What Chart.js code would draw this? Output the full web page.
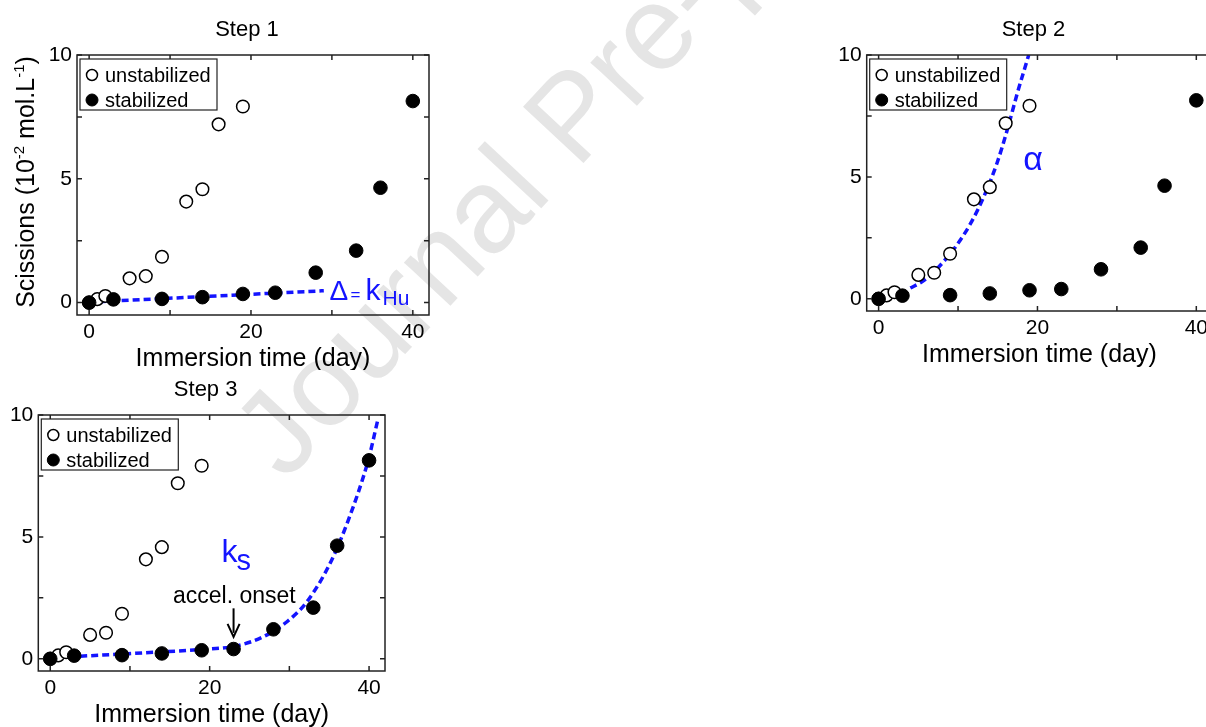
<!DOCTYPE html>
<html lang="en">
<head>
<meta charset="UTF-8">
<title>Scissions vs immersion time - steps 1 to 3</title>
<style>
    html, body {
        margin: 0;
        padding: 0;
        overflow: hidden;
    }
    body {
        position: relative;
        width: 1206px;
        height: 727px;
        background: #fff;
        font-family: Arial, 'Liberation Sans', sans-serif;
    }
    .panel {
        position: absolute;
    }
    #watermark {
        position: absolute;
        left: 211px;
        top: 413px;
        font-size: 120px;
        line-height: 1;
        color: #e5e5e5;
        white-space: nowrap;
        transform-origin: 0 0;
        transform: rotate(-47deg);
    }
</style>
</head>
<body>
<div id="watermark">Journal Pre-proof</div>
<canvas id="step1" class="panel" width="450" height="370" style="left:0;top:0"></canvas>
<canvas id="step2" class="panel" width="430" height="370" style="left:790px;top:0"></canvas>
<canvas id="step3" class="panel" width="400" height="367" style="left:0;top:360px"></canvas>

<script src="https://cdn.jsdelivr.net/npm/chart.js"></script>
<script>
const FONT = 'Arial, "Liberation Sans", sans-serif';
const BLUE = '#1414ff';

const unstabDays = [0, 1, 2, 5, 7, 9, 12, 14, 16, 19];
const unstabScissions = [0, 0.14, 0.27, 0.98, 1.07, 1.85, 4.08, 4.58, 7.2, 7.92];
const stabDays = [0, 3, 9, 14, 19, 23, 28, 33, 36, 40];
const stabScissions = [0, 0.13, 0.15, 0.22, 0.35, 0.4, 1.21, 2.1, 4.64, 8.14];

// dashed model curves, also
const huDays = [1.3, 29];
const huVals = [0.04, 0.48];
const alphaDays = [4, 5.5, 6.8, 8, 9.7, 11.6, 13.25, 14.9, 16.2, 17.4, 18.9];
const alphaVals = [0.44, 0.71, 1.05, 1.46, 2.14, 3.1, 4.19, 5.56, 6.93, 8.36, 10];
const ksDays = [1, 6.3, 12, 18.8, 23.2, 26.7, 29.7, 32.2, 35.1, 37.4, 39.9, 41.1];
const ksVals = [0.06, 0.15, 0.25, 0.38, 0.52, 0.9, 1.52, 2.34, 3.91, 5.69, 8.15, 9.8];

const xMajor = [0, 20, 40];
const xMinor = [10, 30];
const yMajor = [0, 5, 10];
const yMinor = [2.5, 7.5];

const seriesNames = ['unstabilized', 'stabilized'];

function pts(xs, ys) {
    return xs.map((x, i) => ({x: x, y: ys[i]}));
}

// draws a run of text pieces; each piece has its own size, x offset and baseline shift
function drawPieces(ctx, pieces, x, y, color) {
    ctx.fillStyle = color;
    ctx.textBaseline = 'alphabetic';
    ctx.textAlign = 'left';
    pieces.forEach(p => {
        ctx.font = p.size + 'px ' + FONT;
        ctx.fillText(p.t, x + (p.dx || 0), y + (p.dy || 0));
    });
}

const decor = {
    id: 'decor',
    afterDatasetsDraw(chart, args, o) {
        const ctx = chart.ctx;
        const a = chart.chartArea;
        const xs = chart.scales.x, ys = chart.scales.y;
        ctx.save();

        // box + inward ticks on every side
        ctx.strokeStyle = '#222';
        ctx.lineWidth = 1.5;
        ctx.strokeRect(a.left, a.top, a.right - a.left, a.bottom - a.top);
        ctx.beginPath();
        xMajor.concat(xMinor).forEach(v => {
            const px = xs.getPixelForValue(v);
            ctx.moveTo(px, a.bottom); ctx.lineTo(px, a.bottom - 5);
            ctx.moveTo(px, a.top); ctx.lineTo(px, a.top + 5);
        });
        yMajor.concat(yMinor).forEach(v => {
            const py = ys.getPixelForValue(v);
            ctx.moveTo(a.left, py); ctx.lineTo(a.left + 5, py);
            ctx.moveTo(a.right, py); ctx.lineTo(a.right - 5, py);
        });
        ctx.stroke();

        // legend box
        const lx = a.left + 3, ly = a.top + 4;
        ctx.fillStyle = '#fff';
        ctx.fillRect(lx, ly, 137, 51);
        ctx.lineWidth = 1.2;
        ctx.strokeRect(lx, ly, 137, 51);
        seriesNames.forEach((name, i) => {
            const ds = chart.data.datasets[i];
            const cy = a.top + 20 + i * 25;
            ctx.beginPath();
            ctx.arc(a.left + 15, cy, i === 0 ? 5.5 : 6, 0, Math.PI * 2);
            ctx.fillStyle = ds.backgroundColor;
            ctx.fill();
            ctx.lineWidth = ds.borderWidth;
            ctx.strokeStyle = ds.borderColor;
            ctx.stroke();
            ctx.fillStyle = '#000';
            ctx.font = '20px ' + FONT;
            ctx.textAlign = 'left';
            ctx.textBaseline = 'middle';
            ctx.fillText(name, a.left + 28, cy + 1);
        });

        // panel title
        ctx.fillStyle = '#000';
        ctx.font = '22px ' + FONT;
        ctx.textAlign = 'center';
        ctx.textBaseline = 'alphabetic';
        ctx.fillText(o.title, (a.left + a.right) / 2 - 6, a.top - 19);

        // x axis title
        ctx.font = '25px ' + FONT;
        ctx.fillText('Immersion time (day)', (a.left + a.right) / 2, a.bottom + 51);

        // y axis title with superscripts
        if (o.yTitle) {
            const parts = [
                {t: 'Scissions (10', size: 25, dy: 0},
                {t: '-2', size: 15, dy: -10},
                {t: ' mol.L', size: 25, dy: 0},
                {t: '-1', size: 15, dy: -10},
                {t: ')', size: 25, dy: 0}
            ];
            let total = 0;
            parts.forEach(p => { ctx.font = p.size + 'px ' + FONT; p.w = ctx.measureText(p.t).width; total += p.w; });
            ctx.translate(34, (a.top + a.bottom) / 2 - 3);
            ctx.rotate(-Math.PI / 2);
            let cx = -total / 2;
            ctx.textAlign = 'left';
            parts.forEach(p => {
                ctx.font = p.size + 'px ' + FONT;
                ctx.fillText(p.t, cx, p.dy);
                cx += p.w;
            });
            ctx.setTransform(1, 0, 0, 1, 0, 0);
        }

        // annotations placed in data coordinates
        (o.notes || []).forEach(n => {
            drawPieces(ctx, n.pieces, xs.getPixelForValue(n.x), ys.getPixelForValue(n.y), n.color);
        });
        (o.centered || []).forEach(n => {
            ctx.fillStyle = '#000';
            ctx.font = n.size + 'px ' + FONT;
            ctx.textAlign = 'center';
            ctx.fillText(n.t, xs.getPixelForValue(n.x), ys.getPixelForValue(n.y));
        });
        if (o.arrow) {
            const ax = xs.getPixelForValue(o.arrow.x);
            const y0 = ys.getPixelForValue(o.arrow.from);
            const y1 = ys.getPixelForValue(o.arrow.to);
            ctx.strokeStyle = '#000';
            ctx.lineWidth = 2;
            ctx.beginPath();
            ctx.moveTo(ax, y0); ctx.lineTo(ax, y1 - 4);
            ctx.stroke();
            ctx.beginPath();
            ctx.moveTo(ax - 6, y1 - 13);
            ctx.lineTo(ax, y1);
            ctx.lineTo(ax + 6, y1 - 13);
            ctx.stroke();
        }
        ctx.restore();
    }
};

function makePanel(id, cfg) {
    return new Chart(document.getElementById(id), {
        type: 'scatter',
        data: {
            datasets: [
                {
                    label: seriesNames[0],
                    data: pts(unstabDays, unstabScissions),
                    backgroundColor: '#fff',
                    borderColor: '#000',
                    borderWidth: 1.5,
                    pointRadius: 6.3,
                    order: 1
                },
                {
                    label: seriesNames[1],
                    data: pts(stabDays, stabScissions),
                    backgroundColor: '#000',
                    borderColor: '#000',
                    borderWidth: 1,
                    pointRadius: 6.8,
                    order: 0
                },
                {
                    label: 'model',
                    data: pts(cfg.fitDays, cfg.fitVals),
                    showLine: true,
                    pointRadius: 0,
                    borderColor: BLUE,
                    borderWidth: 3.5,
                    borderDash: [7, 4],
                    cubicInterpolationMode: 'monotone',
                    order: 2
                }
            ]
        },
        options: {
            responsive: false,
            animation: false,
            events: [],
            devicePixelRatio: 1,
            layout: {padding: cfg.pad},
            plugins: {
                legend: {display: false},
                tooltip: {enabled: false},
                decor: cfg.decor
            },
            scales: {
                x: {
                    type: 'linear',
                    min: -1.5,
                    max: 42,
                    afterBuildTicks: s => { s.ticks = xMajor.map(v => ({value: v})); },
                    afterFit: s => { s.height = 36; },
                    grid: {display: false, drawTicks: false},
                    border: {display: false},
                    ticks: {padding: 5, color: '#000', font: {family: FONT, size: 21}, callback: v => String(v)}
                },
                y: {
                    type: 'linear',
                    min: -0.5,
                    max: 10,
                    afterBuildTicks: s => { s.ticks = yMajor.map(v => ({value: v})); },
                    afterFit: s => { s.width = 36; },
                    grid: {display: false, drawTicks: false},
                    border: {display: false},
                    ticks: {padding: 5, color: '#000', font: {family: FONT, size: 21}, callback: v => String(v)}
                }
            }
        },
        plugins: [decor]
    });
}

makePanel('step1', {
    fitDays: huDays, fitVals: huVals,
    pad: {left: 41, top: 55, right: 21, bottom: 19},
    decor: {
        title: 'Step 1',
        yTitle: true,
        notes: [{x: 29.7, y: 0.11, color: BLUE, pieces: [
            {t: 'Δ', size: 28},
            {t: '=', size: 17, dx: 21},
            {t: 'k', size: 30, dx: 36},
            {t: 'Hu', size: 21, dx: 53, dy: 5}
        ]}]
    }
});

makePanel('step2', {
    fitDays: alphaDays, fitVals: alphaVals,
    pad: {left: 40.7, top: 55, right: 7.6, bottom: 23},
    decor: {
        title: 'Step 2',
        notes: [{x: 18.2, y: 5.29, color: BLUE, pieces: [{t: 'α', size: 34}]}]
    }
});

makePanel('step3', {
    fitDays: ksDays, fitVals: ksVals,
    pad: {left: 2.3, top: 55, right: 15, bottom: 20},
    decor: {
        title: 'Step 3',
        notes: [{x: 21.5, y: 3.98, color: BLUE, pieces: [
            {t: 'k', size: 32},
            {t: 's', size: 29, dx: 15, dy: 8}
        ]}],
        centered: [{t: 'accel. onset', size: 23, x: 23.1, y: 2.29}],
        arrow: {x: 23, from: 2.07, to: 0.9}
    }
});
</script>
</body>
</html>
